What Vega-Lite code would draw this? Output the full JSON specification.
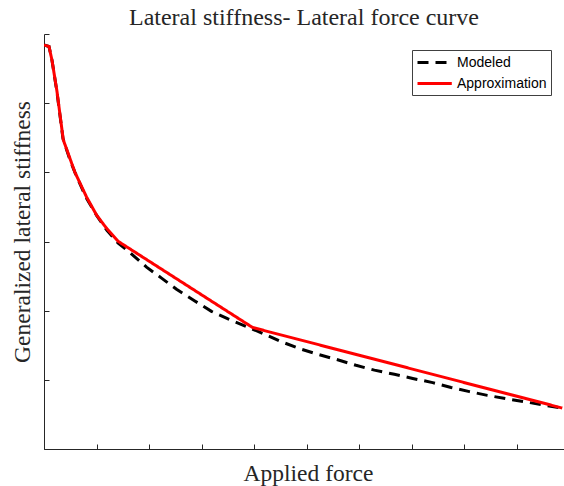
{
  "$schema": "https://vega.github.io/schema/vega-lite/v6.json",
  "width": 520,
  "height": 415,
  "autosize": {"type": "none"},
  "padding": {"left": 44, "top": 34, "right": 0, "bottom": 37},
  "background": "white",
  "config": {"view": {"stroke": null}},
  "title": {
    "text": "Lateral stiffness- Lateral force curve",
    "font": "Liberation Serif",
    "fontSize": 24,
    "fontWeight": "normal",
    "color": "#262626",
    "anchor": "middle",
    "frame": "group",
    "baseline": "alphabetic",
    "offset": 9,
    "dy": 24
  },
  "data": {
    "values": [
      {"series": "Modeled", "x": 0, "y": 5.84},
      {"series": "Modeled", "x": 0.095, "y": 5.82},
      {"series": "Modeled", "x": 0.152, "y": 5.62},
      {"series": "Modeled", "x": 0.247, "y": 5.16},
      {"series": "Modeled", "x": 0.361, "y": 4.49},
      {"series": "Modeled", "x": 0.494, "y": 4.18},
      {"series": "Modeled", "x": 0.589, "y": 4.0},
      {"series": "Modeled", "x": 0.798, "y": 3.64},
      {"series": "Modeled", "x": 1.008, "y": 3.37},
      {"series": "Modeled", "x": 1.198, "y": 3.16},
      {"series": "Modeled", "x": 1.407, "y": 2.98},
      {"series": "Modeled", "x": 1.635, "y": 2.84},
      {"series": "Modeled", "x": 1.952, "y": 2.63},
      {"series": "Modeled", "x": 2.238, "y": 2.47},
      {"series": "Modeled", "x": 2.523, "y": 2.31},
      {"series": "Modeled", "x": 2.871, "y": 2.14},
      {"series": "Modeled", "x": 3.188, "y": 1.99},
      {"series": "Modeled", "x": 3.504, "y": 1.88},
      {"series": "Modeled", "x": 3.854, "y": 1.77},
      {"series": "Modeled", "x": 4.2, "y": 1.66},
      {"series": "Modeled", "x": 4.52, "y": 1.55},
      {"series": "Modeled", "x": 4.87, "y": 1.45},
      {"series": "Modeled", "x": 5.21, "y": 1.37},
      {"series": "Modeled", "x": 5.59, "y": 1.29},
      {"series": "Modeled", "x": 5.94, "y": 1.21},
      {"series": "Modeled", "x": 6.29, "y": 1.14},
      {"series": "Modeled", "x": 6.67, "y": 1.08},
      {"series": "Modeled", "x": 7.02, "y": 1.02},
      {"series": "Modeled", "x": 7.4, "y": 0.96},
      {"series": "Modeled", "x": 7.75, "y": 0.89},
      {"series": "Modeled", "x": 8.1, "y": 0.83},
      {"series": "Modeled", "x": 8.44, "y": 0.775},
      {"series": "Modeled", "x": 8.82, "y": 0.725},
      {"series": "Modeled", "x": 9.18, "y": 0.68},
      {"series": "Modeled", "x": 9.52, "y": 0.635},
      {"series": "Modeled", "x": 9.86, "y": 0.59},
      {"series": "Approximation", "x": 0, "y": 5.84},
      {"series": "Approximation", "x": 0.095, "y": 5.82},
      {"series": "Approximation", "x": 0.152, "y": 5.62},
      {"series": "Approximation", "x": 0.247, "y": 5.17},
      {"series": "Approximation", "x": 0.367, "y": 4.47},
      {"series": "Approximation", "x": 0.589, "y": 4.0},
      {"series": "Approximation", "x": 0.812, "y": 3.64},
      {"series": "Approximation", "x": 1.002, "y": 3.38},
      {"series": "Approximation", "x": 1.192, "y": 3.19},
      {"series": "Approximation", "x": 1.416, "y": 3.0},
      {"series": "Approximation", "x": 3.973, "y": 1.756},
      {"series": "Approximation", "x": 9.867, "y": 0.592}
    ]
  },
  "encoding": {
    "x": {
      "field": "x",
      "type": "quantitative",
      "scale": {"domain": [0, 9.9], "nice": false, "zero": false},
      "axis": {
        "title": "Applied force",
        "titleFont": "Liberation Serif",
        "titleFontSize": 23.5,
        "titleFontWeight": "normal",
        "titleColor": "#262626",
        "titleBaseline": "alphabetic",
        "titleAlign": "center",
        "titleX": 264,
        "titleY": 31,
        "labels": false,
        "values": [0, 1, 2, 3, 4, 5, 6, 7, 8, 9],
        "tickSize": -5,
        "tickColor": "#262626",
        "domainColor": "#262626",
        "grid": false
      }
    },
    "y": {
      "field": "y",
      "type": "quantitative",
      "scale": {"domain": [0, 6], "nice": false, "zero": false},
      "axis": {
        "title": "Generalized lateral stiffness",
        "titleFont": "Liberation Serif",
        "titleFontSize": 23.5,
        "titleFontWeight": "normal",
        "titleColor": "#262626",
        "titleBaseline": "alphabetic",
        "titleAngle": -90,
        "titleX": -15,
        "titleY": 197.5,
        "labels": false,
        "values": [0, 1, 2, 3, 4, 5, 6],
        "tickSize": -5,
        "tickColor": "#262626",
        "domainColor": "#262626",
        "grid": false
      }
    },
    "color": {
      "field": "series",
      "type": "nominal",
      "scale": {"domain": ["Modeled", "Approximation"], "range": ["#000000", "#ff0000"]},
      "legend": {
        "title": null,
        "orient": "none",
        "legendX": 368,
        "legendY": 16,
        "symbolType": "M-1,0H3.9",
        "symbolSize": 196,
        "symbolStrokeWidth": 3,
        "labelFont": "Liberation Sans",
        "labelFontSize": 14,
        "labelColor": "#000000",
        "labelOffset": 24,
        "rowPadding": 5,
        "padding": 4,
        "strokeColor": "#404040",
        "fillColor": "white",
        "encode": {
          "symbols": {
            "update": {
              "strokeDash": {"signal": "datum.value === 'Modeled' ? [11, 9] : [1, 0]"}
            }
          }
        }
      }
    },
    "strokeDash": {
      "field": "series",
      "type": "nominal",
      "scale": {"domain": ["Modeled", "Approximation"], "range": [[11, 7], [1, 0]]},
      "legend": null
    }
  },
  "layer": [
    {
      "transform": [{"filter": "datum.series === 'Modeled'"}],
      "mark": {"type": "line", "strokeWidth": 3, "clip": true}
    },
    {
      "transform": [{"filter": "datum.series === 'Approximation'"}],
      "mark": {"type": "line", "strokeWidth": 3, "clip": true}
    }
  ]
}
